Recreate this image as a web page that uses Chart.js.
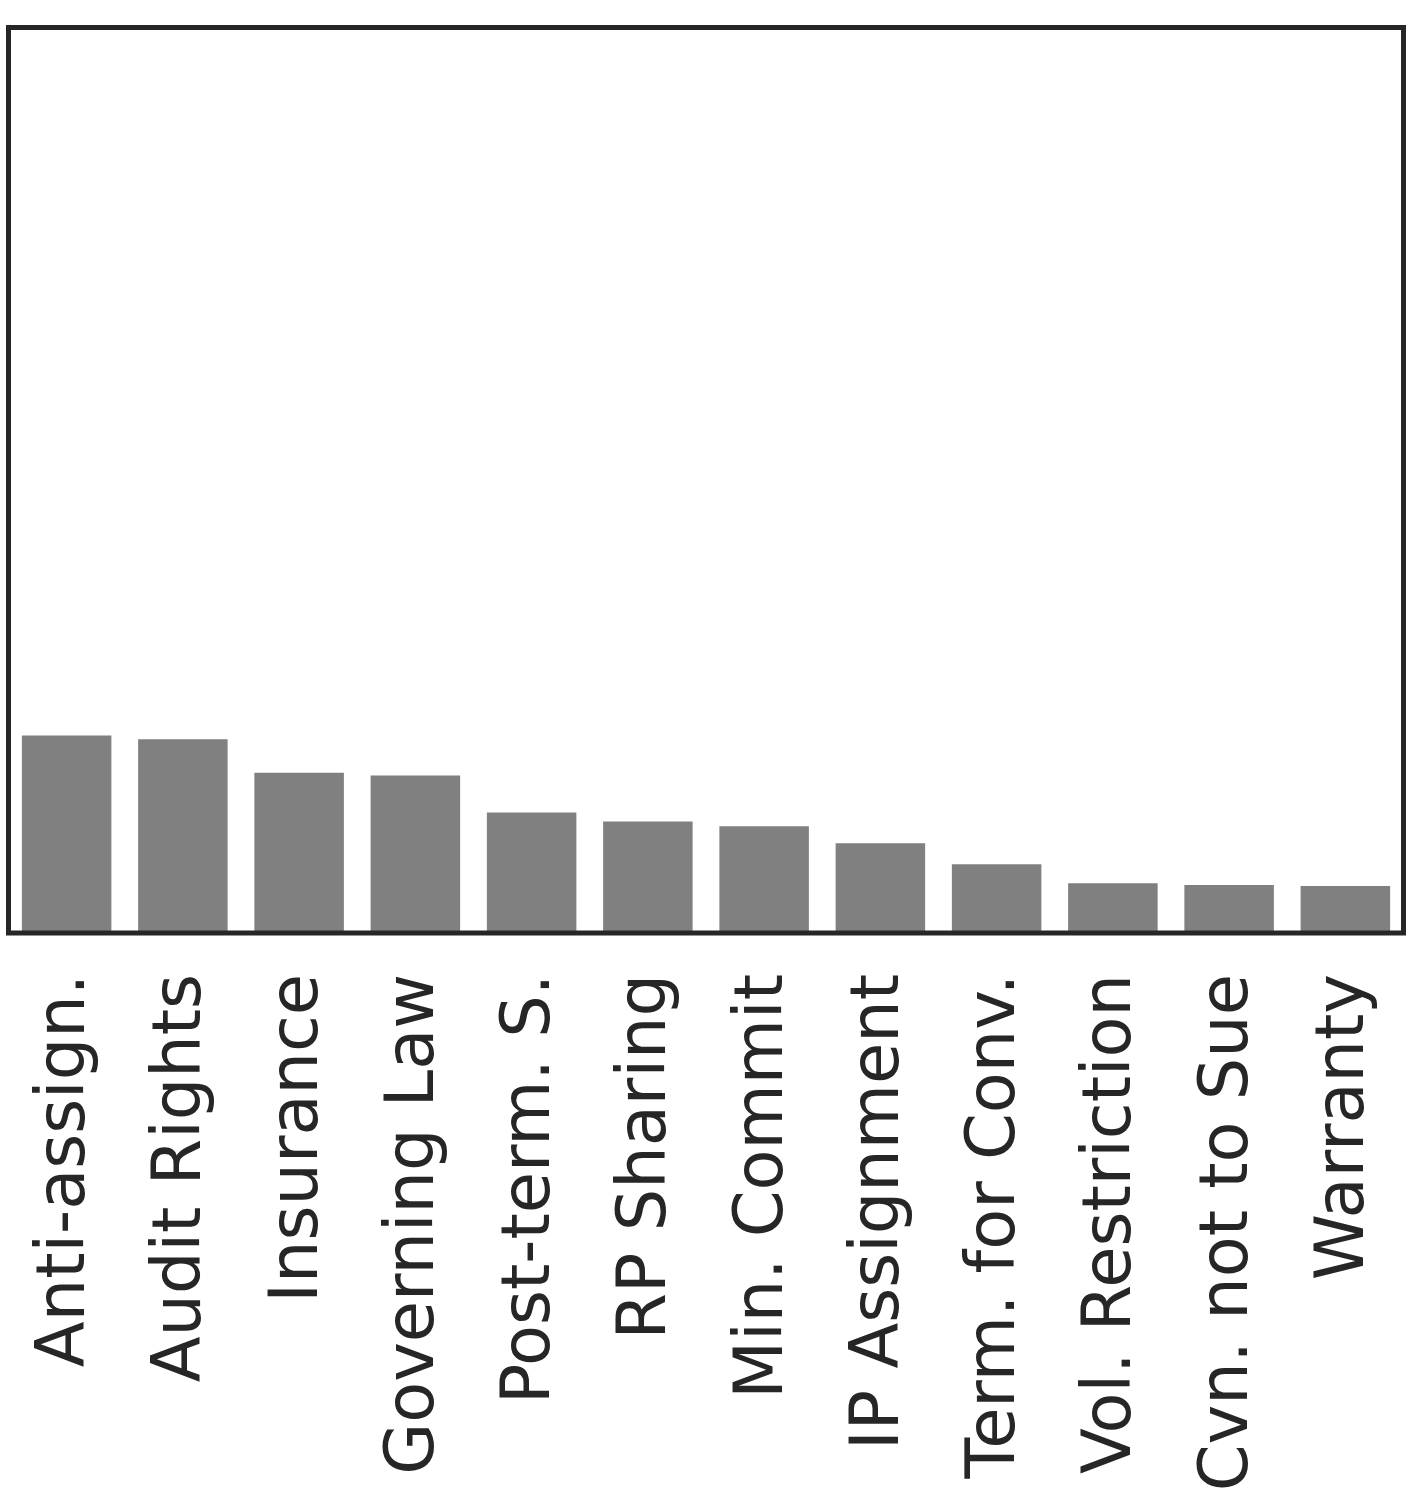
<!DOCTYPE html>
<html>
<head>
<meta charset="utf-8">
<script src="https://cdn.jsdelivr.net/npm/chart.js@4.4.1/dist/chart.umd.min.js"></script>
<style>
  html, body { margin: 0; padding: 0; background: #fff; }
  #wrap { width: 1414px; height: 1492px; }
</style>
</head>
<body>
<div id="wrap"><canvas id="chart" width="1414" height="1492"></canvas></div>
<script>
// Categories and values (share of plot height)
const categories = ['Anti-assign.', 'Audit Rights', 'Insurance', 'Governing Law', 'Post-term. S.',
  'RP Sharing', 'Min. Commit', 'IP Assignment', 'Term. for Conv.', 'Vol. Restriction',
  'Cvn. not to Sue', 'Warranty'];
const values = [21.8, 21.4, 17.7, 17.4, 13.3, 12.3, 11.8, 9.9, 7.6, 5.5, 5.3, 5.2];
const yMax = 100;

// Draw the dark frame around the plot area
const framePlugin = {
  id: 'frame',
  afterDraw(chart) {
    const { ctx, chartArea: a } = chart;
    ctx.save();
    ctx.strokeStyle = '#262626';
    ctx.lineWidth = 5;
    ctx.strokeRect(a.left, a.top, a.right - a.left, a.bottom - a.top);
    ctx.restore();
  }
};

new Chart(document.getElementById('chart').getContext('2d'), {
  type: 'bar',
  data: {
    labels: categories,
    datasets: [{
      data: values,
      backgroundColor: '#808080',
      borderWidth: 0,
      barPercentage: 0.77,
      categoryPercentage: 1.0
    }]
  },
  options: {
    responsive: false,
    animation: false,
    layout: { padding: { left: 8.5, right: 10.5, top: 27.5, bottom: 0 } },
    plugins: { legend: { display: false }, tooltip: { enabled: false } },
    scales: {
      x: {
        grid: { display: false },
        border: { display: false },
        ticks: {
          minRotation: 90,
          maxRotation: 90,
          autoSkip: false,
          padding: 33,
          color: '#262626',
          font: { family: 'DejaVu Sans', size: 67 }
        },
        afterFit(scale) {
          scale.height = 559;
          scale.paddingLeft = 0;
          scale.paddingRight = 0;
        }
      },
      y: {
        display: false,
        min: 0,
        max: yMax
      }
    }
  },
  plugins: [framePlugin]
});
</script>
</body>
</html>
